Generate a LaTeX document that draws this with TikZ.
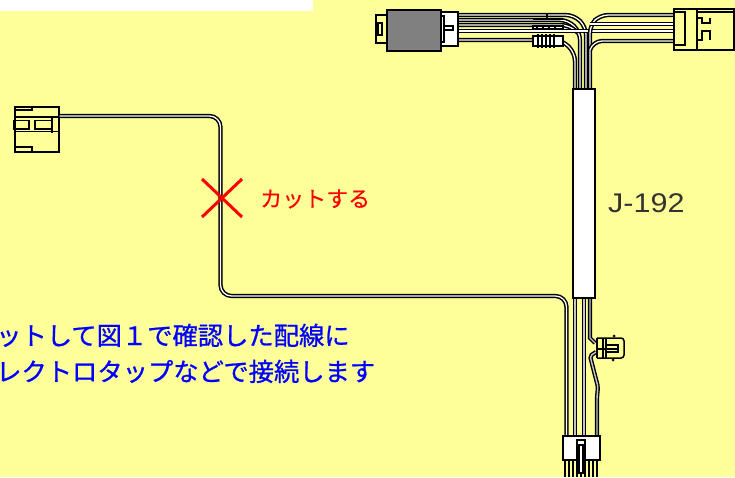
\documentclass[tikz,border=0pt]{standalone}
\usepackage{fontspec}
\newfontfamily\jpfont{Noto Sans CJK JP}[FakeBold=0.8]
\newfontfamily\jpthin{Noto Sans CJK JP}[FakeBold=0.25]
\setmainfont{Liberation Sans}
\definecolor{bgy}{RGB}{255,255,153}
\definecolor{boxgray}{RGB}{128,128,128}
\tikzset{
  wire/.style={draw=black,line width=1.5pt,double=white,double distance=1.3pt,rounded corners=9pt},
  graywire/.style={draw=black,line width=1.4pt,double=gray!45,double distance=1.4pt},
  part/.style={draw=black,line width=1.5pt},
  fine/.style={draw=black,line width=1.1pt},
  bluetxt/.style={text=blue,font=\jpfont\fontsize{25.3}{25}\selectfont,anchor=base west,inner sep=0pt},
  redtxt/.style={text=red,font=\jpthin\fontsize{22}{22}\selectfont,anchor=west,inner sep=0pt}
}
\begin{document}
\begin{tikzpicture}[x=1pt,y=-1pt]
\useasboundingbox (0,0) rectangle (735,477);
\fill[bgy] (0,0) rectangle (735,477);
\fill[white] (0,0) rectangle (313,11);
% left connector
\node[part,fill=bgy,minimum width=44pt,minimum height=45pt,inner sep=0pt,anchor=north west] (lc) at (14,106) {};
\draw[fine] (14,110) -- (32,110) -- (32,106);
\draw[fine] (14,147) -- (32,147) -- (32,151);
\draw[fine] (14,117) -- (58,117);
\draw[fine] (14,131.5) -- (58,131.5);
\draw[fine] (14,120.5) rectangle (29,129);
\draw[fine] (35,120.5) rectangle (52,129);
\draw[fine] (52,116) -- (52,133);
% long wire
\coordinate (k1) at (220.5,116);
\coordinate (k2) at (220.5,296);
\coordinate (k3) at (566.5,296);
\coordinate (k4) at (566.5,437);
\draw[wire,rounded corners=11pt] (lc.east |- 0,116) -- (k1) -- (k2) -- (k3) -- (k4);
% red cross
\draw[red,line width=3pt] (202,179) -- (242,217);
\draw[red,line width=3pt] (242,179) -- (202,217);
\node[redtxt] (cut) at (260,199) {カットする};
\node[anchor=west,inner sep=0pt,font=\fontsize{27}{27}\selectfont,text=black!80,xscale=1.13] (jl) at (608,203) {J-192};
\node[bluetxt] (t1) at (-4,345) {ットして図１で確認した配線に};
\node[bluetxt] (t2) at (-4,381) {レクトロタップなどで接続します};
% top wires
\draw[wire,rounded corners=8pt] (458,15) -- (574,15) -- (586,27) -- (586,89);
\draw[wire,rounded corners=8pt] (458,20) -- (568,20) -- (580,32) -- (580,89);
\draw[wire] (458,25) -- (570,25) -- (578,33);
\draw[wire] (458,31) -- (673,31);
\draw[wire,rounded corners=8pt] (458,40) -- (562,40) -- (575,53) -- (575,89);
\draw[wire,rounded corners=8pt] (673,15) -- (600,15) -- (590,25) -- (590,89);
\draw[wire] (673,24) -- (590,24);
\draw[wire] (673,41) -- (593,41) -- (590,50);
% inline bits
\fill[white,draw=black,line width=1.3pt] (533,36) rectangle (563,46);
\foreach \x in {538,542,546,550,554}{\draw[black,line width=1.6pt] (\x,34) -- (\x,48);}
\draw[fine] (533,19) -- (563,19);
\draw[fine,fill=white] (533,26) rectangle (563,29);
\foreach \x in {537,543,549,555}{\draw[fine] (\x,26) -- (\x,29);}
\draw[fine] (547,14) -- (547,20);
% upper left connector
\node[part,fill=white,minimum width=17pt,minimum height=34pt,inner sep=0pt,anchor=north west] (c2) at (440,11) {};
\draw[part,fill=bgy] (386,15) -- (376,15) -- (376,43) -- (386,43);
\node[part,fill=boxgray,minimum width=54pt,minimum height=41pt,inner sep=0pt,anchor=north west] (c1) at (386,9) {};
\draw[fine] (378,23) rectangle (382,35);
\draw[fine] (441,16) rectangle (444,42);
\draw[fine] (445,26) -- (453,26) (445,30) -- (453,30) (453,25) -- (453,31);
% upper right connector
\node[part,fill=bgy,minimum width=60pt,minimum height=41pt,inner sep=0pt,anchor=north west] (c3) at (673,8) {};
\draw[fine] (697,8) -- (697,49);
\draw[fine] (673,12) -- (685,12) -- (685,45) -- (673,45);
\draw[fine] (697,12) -- (733,12);
\draw[fine] (697,18) -- (702,18) -- (702,23) -- (710,23) -- (710,18);
\draw[fine] (697,40) -- (702,40) -- (702,31) -- (710,31) -- (710,40);
% lower wires
\draw[graywire] (575,293) -- (575,437);
\draw[graywire] (584,293) -- (584,437);
\draw[graywire] (590,293) -- (590,338) -- (595,343);
\draw[graywire,rounded corners=2pt] (596,352) -- (590,356) -- (598,387) -- (597,397) -- (597,437);
% tube
\node[part,fill=white,minimum width=22pt,minimum height=209pt,inner sep=0pt,anchor=north west] (tube) at (572,88) {};
% small connector
\draw[part,rounded corners=3pt] (597,338) -- (624,338) -- (624,358) -- (597,358);
\draw[part] (597,338) -- (597,358);
\draw[fine] (603,338) -- (603,358);
\draw[fine] (606,338) -- (606,358);
\draw[fine] (606,345) rectangle (618,352);
\draw[fine] (597,349) -- (618,349);
\fill (614,336) circle (1.5pt);
\fill (613,360) circle (1.5pt);
% bottom connector
\foreach \x in {565,569,573,577,581,585,589,593,597}{\draw[black,line width=1.4pt] (\x,459) -- (\x,477);}
\node[part,fill=white,minimum width=37pt,minimum height=24pt,inner sep=0pt,anchor=north west] (c4) at (562,435) {};
\draw[part,fill=white] (577,440) rectangle (585,459);
\draw[fine,fill=white] (579,445) rectangle (583,473);
\end{tikzpicture}
\end{document}
